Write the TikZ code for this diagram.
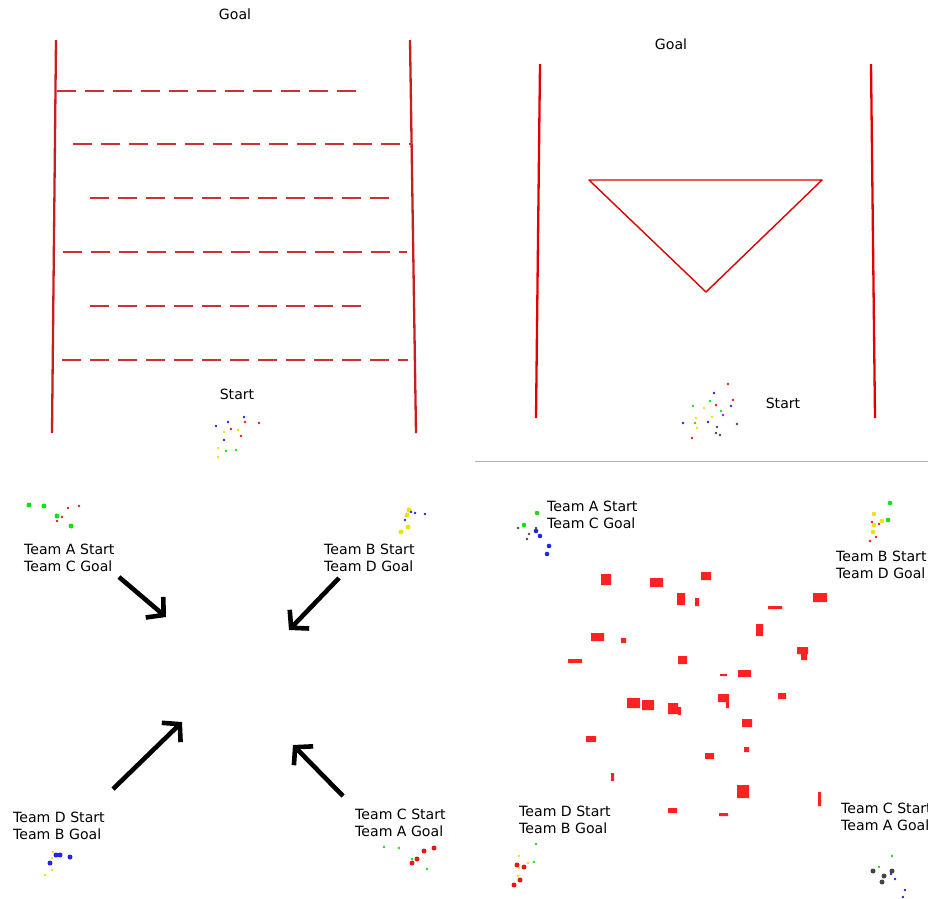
\documentclass[tikz,border=0pt]{standalone}
\usepackage{fontspec}
\setmainfont{DejaVu Sans}
\usetikzlibrary{arrows.meta}
\definecolor{wallred}{RGB}{200,30,30}
\definecolor{lanered}{RGB}{205,50,50}
\definecolor{obstred}{RGB}{255,34,34}
\definecolor{dotgreen}{RGB}{20,225,20}
\definecolor{dotyellow}{RGB}{235,225,20}
\definecolor{dotblue}{RGB}{35,35,240}
\definecolor{dotred}{RGB}{230,25,25}
\definecolor{dotgray}{RGB}{70,70,70}
\definecolor{dotpurple}{RGB}{150,30,230}
\begin{document}
\begin{tikzpicture}[x=1pt, y=-1pt,
        lbl/.style={inner sep=0pt, font=\fontsize{14.1}{16.6}\selectfont},
        team/.style={lbl, anchor=west, align=left},
        wall/.style={wallred, line width=2.3pt},
        lane/.style={lanered, line width=2pt, dash pattern=on 19pt off 9pt},
        tri/.style={red!85!black, line width=1.4pt, line join=round},
        move/.style={-{Straight Barb[length=12pt, width=27pt]}, line width=4.6pt, black},
        obst/.style={fill=obstred},
    ]
    \useasboundingbox (0,0) rectangle (928,898);
    \clip (0,0) rectangle (928,898);

    % Ladder course
    \node[lbl] (tl-goal) at (235,14) {Goal};
    \node[lbl] (tl-start) at (237,394) {Start};
    \draw[wall] (56,40) -- (52,433);
    \draw[wall] (410,40) -- (416,433);
    \draw[lane] (57,91) -- (360,91);
    \draw[lane] (73,144) -- (412,144);
    \draw[lane] (90,198) -- (398,198);
    \draw[lane] (63,252) -- (407,252);
    \draw[lane] (90,306) -- (362,306);
    \draw[lane] (62,360) -- (408,360);
    \fill[dotblue] (216,426) circle (1.3pt) (228,422) circle (1.3pt) (244,417) circle (1.3pt) (224,440) circle (1.3pt);
    \fill[dotred] (245,422) circle (1.3pt) (259,423) circle (1.3pt) (231,429) circle (1.3pt) (241,436) circle (1.3pt);
    \fill[dotyellow] (224,432) circle (1.3pt) (238,430) circle (1.3pt) (218,448) circle (1.3pt) (218,457) circle (1.3pt);
    \fill[dotgreen] (226,451) circle (1.3pt) (236,450) circle (1.3pt);

    % Triangle course
    \node[lbl] (tr-goal) at (671,44) {Goal};
    \node[lbl] (tr-start) at (783,403) {Start};
    \draw[wall, red!90!black] (540,64) -- (536,418);
    \draw[wall, red!90!black] (871,64) -- (875,418);
    \draw[tri] (589,180) -- (822,180) -- (706,292) -- cycle;
    \fill[dotred] (728,384) circle (1.3pt) (733,400) circle (1.3pt) (716,405) circle (1.3pt) (692,438) circle (1.3pt);
    \fill[dotblue] (714,393) circle (1.3pt) (731,406) circle (1.3pt) (683,423) circle (1.3pt) (708,422) circle (1.3pt);
    \fill[dotgreen] (710,401) circle (1.3pt) (693,406) circle (1.3pt) (721,411) circle (1.3pt) (695,423) circle (1.3pt);
    \fill[dotyellow] (704,408) circle (1.3pt) (712,417) circle (1.3pt) (696,418) circle (1.3pt) (697,428) circle (1.3pt);
    \fill[dotpurple] (723,415) circle (1.3pt);
    \fill[dotgray] (737,424) circle (1.3pt) (717,427) circle (1.3pt) (716,433) circle (1.3pt) (720,435) circle (1.3pt);
    \draw[gray!60, line width=1pt] (475,461) -- (928,461);

    % Crossing, open field
    \node[team] (bl-a) at (24,558) {Team A Start\\Team C Goal};
    \node[team] (bl-b) at (324,558) {Team B Start\\Team D Goal};
    \node[team] (bl-d) at (13,826) {Team D Start\\Team B Goal};
    \node[team] (bl-c) at (355,823) {Team C Start\\Team A Goal};
    \coordinate (a-from) at (119,577); \coordinate (a-to) at (166,617);
    \coordinate (b-from) at (339,578); \coordinate (b-to) at (289,630);
    \coordinate (d-from) at (113,789); \coordinate (d-to) at (182,722);
    \coordinate (c-from) at (343,796); \coordinate (c-to) at (293,745);
    \draw[move] (a-from) -- (a-to);
    \draw[move] (b-from) -- (b-to);
    \draw[move] (d-from) -- (d-to);
    \draw[move] (c-from) -- (c-to);
    \fill[dotgreen] (29,505) circle (2.5pt) (44,506) circle (2.5pt) (57,516) circle (2.5pt) (71,526) circle (2.5pt);
    \fill[dotred] (68,508) circle (1.4pt) (79,506) circle (1.4pt) (62,517) circle (1.4pt) (57,521) circle (1.4pt);
    \fill[dotyellow] (409,510) circle (2.5pt) (407,515) circle (2.5pt) (408,527) circle (2.5pt) (401,532) circle (2.5pt);
    \fill[dotblue] (411,512) circle (1.4pt) (415,513) circle (1.4pt) (425,514) circle (1.4pt) (405,520) circle (1.4pt);
    \fill[dotblue] (56,855) circle (2.5pt) (60,855) circle (2.5pt) (70,857) circle (2.5pt) (50,863) circle (2.5pt);
    \fill[dotyellow] (53,852) circle (1.4pt) (52,858) circle (1.4pt) (52,870) circle (1.4pt) (45,875) circle (1.4pt);
    \fill[dotred] (424,851) circle (2.5pt) (434,848) circle (2.5pt) (417,859) circle (2.5pt) (412,863) circle (2.5pt);
    \fill[dotgreen] (384,847) circle (1.4pt) (399,848) circle (1.4pt) (412,859) circle (1.4pt) (427,869) circle (1.4pt);

    % Crossing, with obstacles
    \node[team] (br-a) at (547,515) {Team A Start\\Team C Goal};
    \node[team] (br-b) at (836,565) {Team B Start\\Team D Goal};
    \node[team] (br-d) at (519,820) {Team D Start\\Team B Goal};
    \node[team] (br-c) at (841,817) {Team C Start\\Team A Goal};
    \fill[obst] (601,574) rectangle (611,585) (650,578) rectangle (663,587)
        (701,572) rectangle (711,580) (677,593) rectangle (685,605)
        (695,598) rectangle (699,606) (813,593) rectangle (827,602)
        (768,606) rectangle (782,609) (756,624) rectangle (763,636)
        (591,633) rectangle (604,641) (621,638) rectangle (626,643)
        (797,647) rectangle (808,654) (801,654) rectangle (807,660)
        (568,659) rectangle (582,663) (678,656) rectangle (687,664)
        (720,674) rectangle (727,676) (738,670) rectangle (751,677)
        (778,693) rectangle (786,699) (627,698) rectangle (640,708)
        (642,700) rectangle (654,710) (668,703) rectangle (678,714)
        (678,707) rectangle (681,715) (718,694) rectangle (729,702)
        (726,702) rectangle (729,708) (742,719) rectangle (752,727)
        (586,736) rectangle (596,742) (744,747) rectangle (749,752)
        (705,753) rectangle (714,759) (611,773) rectangle (614,781)
        (737,785) rectangle (749,798) (818,792) rectangle (821,806)
        (668,808) rectangle (677,813) (719,813) rectangle (728,816);
    \fill[dotgreen] (537,513) circle (2.3pt) (524,525) circle (2.3pt);
    \fill[dotgray] (518,528) circle (1.3pt) (536,528) circle (1.3pt) (529,534) circle (1.3pt) (527,539) circle (1.3pt);
    \fill[dotblue] (536,531) circle (2.3pt) (540,536) circle (2.3pt) (549,546) circle (2.3pt) (547,554) circle (2.3pt);
    \fill[dotgreen] (890,503) circle (2.3pt) (888,520) circle (2.3pt);
    \fill[dotyellow] (874,514) circle (2.3pt) (882,521) circle (2.3pt) (874,525) circle (2.3pt) (873,532) circle (2.3pt);
    \fill[dotred] (872,522) circle (1.4pt) (879,524) circle (1.4pt) (876,537) circle (1.4pt) (870,541) circle (1.4pt);
    \fill[dotgreen] (536,844) circle (1.4pt) (534,862) circle (1.4pt);
    \fill[dotyellow] (519,856) circle (1.4pt) (528,863) circle (1.4pt) (519,868) circle (1.4pt) (518,876) circle (1.4pt);
    \fill[dotred] (517,865) circle (2.5pt) (524,867) circle (2.5pt) (520,880) circle (2.5pt) (514,885) circle (2.5pt);
    \fill[dotgreen] (892,856) circle (1.4pt) (879,867) circle (1.4pt);
    \fill[dotgray] (873,871) circle (2.5pt) (892,871) circle (2.5pt) (884,876) circle (2.5pt) (882,882) circle (2.5pt);
    \fill[dotblue] (891,874) circle (1.4pt) (895,879) circle (1.4pt) (905,890) circle (1.4pt) (903,897) circle (1.4pt);
\end{tikzpicture}
\end{document}
